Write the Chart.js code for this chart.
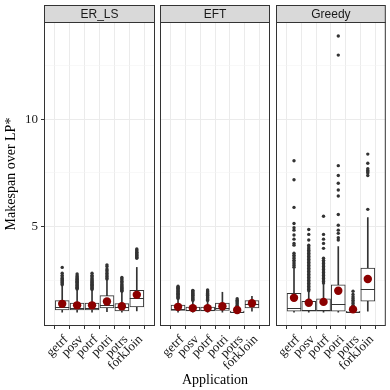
<!DOCTYPE html>
<html>
<head>
<meta charset="utf-8">
<script src="https://cdn.jsdelivr.net/npm/chart.js@4/dist/chart.umd.min.js"></script>
<style>
  body { margin: 0; background: #fff; }
  #wrap { position: relative; width: 390px; height: 390px; }
  #wrap canvas { position: absolute; left: 0; top: 0; }
</style>
</head>
<body>
<div id="wrap">
  <canvas id="c0" width="390" height="390"></canvas>
  <canvas id="c1" width="390" height="390"></canvas>
  <canvas id="c2" width="390" height="390"></canvas>
</div>
<script>
// Datos (un panel por planificador)
const schedulers = ['ER_LS', 'EFT', 'Greedy'];
const apps = ['getrf', 'posv', 'potrf', 'potri', 'potrs', 'forkJoin'];

const whiskerLow = [
  [1.0, 1.0, 1.0, 1.02, 1.0, 1.06],
  [1.0, 1.0, 1.0, 1.0, 0.98, 1.05],
  [1.0, 1.0, 1.0, 1.0, 0.98, 1.05]
];
const q1 = [
  [1.10, 1.10, 1.10, 1.20, 1.06, 1.25],
  [1.08, 1.06, 1.06, 1.08, 1.0, 1.20],
  [1.05, 1.05, 1.05, 1.05, 1.0, 1.51]
];
const medians = [
  [1.22, 1.20, 1.20, 1.34, 1.26, 1.65],
  [1.15, 1.10, 1.10, 1.20, 1.02, 1.40],
  [1.19, 1.10, 1.10, 1.39, 1.02, 2.10]
];
const q3 = [
  [1.54, 1.42, 1.42, 1.77, 1.40, 2.02],
  [1.33, 1.24, 1.24, 1.42, 1.05, 1.54],
  [1.88, 1.51, 1.62, 2.28, 1.04, 3.06]
];
const whiskerHigh = [
  [2.22, 2.04, 2.02, 2.51, 1.95, 3.09],
  [1.60, 1.51, 1.51, 1.93, 1.12, 1.74],
  [3.02, 1.94, 2.31, 4.06, 1.10, 5.42]
];
const means = [
  [1.39, 1.32, 1.32, 1.50, 1.28, 1.81],
  [1.25, 1.19, 1.19, 1.28, 1.10, 1.42],
  [1.67, 1.44, 1.48, 2.00, 1.13, 2.55]
];
const outliers = [
  [
    [2.28, 2.33, 2.38, 2.43, 2.48, 2.53, 2.58, 2.64, 2.72, 2.82, 3.09],
    [2.08, 2.12, 2.16, 2.2, 2.24, 2.28, 2.32, 2.36, 2.4, 2.44, 2.48, 2.52, 2.56, 2.6, 2.65, 2.7, 2.78],
    [2.06, 2.1, 2.14, 2.18, 2.22, 2.26, 2.3, 2.34, 2.38, 2.42, 2.46, 2.5, 2.55, 2.6, 2.66, 2.72, 2.82],
    [2.55, 2.6, 2.67, 2.74, 2.8, 2.87, 2.95, 3.02, 3.13, 3.21],
    [1.98, 2.02, 2.06, 2.1, 2.14, 2.18, 2.22, 2.27, 2.32, 2.38, 2.44, 2.5, 2.56, 2.62],
    [3.52, 3.56, 3.6, 3.64, 3.68, 3.72, 3.76, 3.8, 3.85, 3.9, 3.95]
  ],
  [
    [1.64, 1.68, 1.72, 1.76, 1.8, 1.84, 1.88, 1.92, 1.96, 2.0, 2.04, 2.08, 2.12, 2.16, 2.21],
    [1.55, 1.59, 1.63, 1.67, 1.71, 1.75, 1.79, 1.83, 1.87, 1.91, 1.95, 1.99, 2.02],
    [1.55, 1.59, 1.63, 1.67, 1.71, 1.75, 1.79, 1.83, 1.87, 1.91, 1.95, 1.99, 2.04],
    [],
    [1.2, 1.26, 1.32, 1.38, 1.44, 1.5, 1.56, 1.63],
    []
  ],
  [
    [3.1, 3.18, 3.26, 3.34, 3.42, 3.5, 3.58, 3.66, 3.75, 4.13, 4.21, 4.41, 4.6, 4.83, 4.94, 5.14, 5.89, 7.18, 8.07],
    [2.0, 2.07, 2.14, 2.21, 2.28, 2.35, 2.42, 2.49, 2.56, 2.63, 2.7, 2.77, 2.84, 2.91, 2.98, 3.05, 3.12, 3.19, 3.26, 3.33, 3.4, 3.47, 3.54, 3.61, 3.68, 3.75, 3.82, 3.89, 3.96, 4.04, 4.13, 4.37, 4.63, 4.86],
    [2.36, 2.43, 2.5, 2.57, 2.64, 2.71, 2.78, 2.85, 2.92, 2.99, 3.06, 3.13, 3.2, 3.27, 3.34, 3.42, 3.52, 3.98, 4.21, 4.41, 4.63, 5.48],
    [4.37, 4.48, 4.68, 4.83, 5.06, 5.56, 6.42, 6.7, 7.02, 7.38, 7.84, 13.0, 13.89],
    [1.16, 1.24, 1.32, 1.4, 1.48, 1.56, 1.64, 1.72, 1.83, 1.98],
    [5.8, 7.38, 7.5, 7.55, 7.61, 7.7, 7.95, 8.38]
  ]
];

const yTickLabels = [5, 10];
const yMinorGrid = [2.5, 7.5, 12.5];
const yRange = [0.355, 14.545];

const serif = "'Liberation Serif', 'Times New Roman', serif";
const sans = "'Liberation Sans', Arial, sans-serif";

// caja de cada panel en pixeles
const panelLeft = [44, 160, 276];
const panelRight = [155, 270, 386];

// mediana sobre la caja
const medianPlugin = {
    id: 'boxMedian',
    afterDatasetDraw(chart, args, opts) {
        if (args.index !== 2) return;
        const ctx = chart.ctx;
        const y = chart.scales.y;
        ctx.save();
        ctx.strokeStyle = '#333';
        ctx.lineWidth = 1;
        args.meta.data.forEach((bar, i) => {
            const py = Math.round(y.getPixelForValue(opts.values[i])) + 0.5;
            ctx.beginPath();
            ctx.moveTo(bar.x - bar.width / 2, py);
            ctx.lineTo(bar.x + bar.width / 2, py);
            ctx.stroke();
        });
        ctx.restore();
    }
};

// borde del panel y cabecera gris
const facetPlugin = {
    id: 'facet',
    afterDraw(chart, args, opts) {
        const ctx = chart.ctx;
        const a = chart.chartArea;
        ctx.save();
        ctx.strokeStyle = '#333';
        ctx.lineWidth = 1;
        ctx.strokeRect(a.left + 0.5, a.top + 0.5, a.right - a.left - 1, a.bottom - a.top - 1);
        ctx.fillStyle = '#D9D9D9';
        ctx.fillRect(a.left + 0.5, 5.5, a.right - a.left - 1, a.top - 5);
        ctx.strokeRect(a.left + 0.5, 5.5, a.right - a.left - 1, a.top - 5);
        ctx.fillStyle = '#1A1A1A';
        ctx.font = '12px ' + sans;
        ctx.textAlign = 'center';
        ctx.textBaseline = 'middle';
        ctx.fillText(opts.label, (a.left + a.right) / 2, (5 + a.top) / 2 + 1);
        ctx.restore();
    }
};

function makePanel(p) {
    const boxData = apps.map((a, i) => ({ x: i, y: [q1[p][i], q3[p][i]] }));
    const whiskerData = apps.map((a, i) => ({ x: i, y: [whiskerLow[p][i], whiskerHigh[p][i]] }));
    const meanData = apps.map((a, i) => ({ x: i, y: means[p][i] }));
    const outlierData = [];
    outliers[p].forEach((list, i) => list.forEach(v => outlierData.push({ x: i, y: v })));

    new Chart(document.getElementById('c' + p), {
        type: 'bar',
        data: {
            datasets: [
                { type: 'line', data: meanData, showLine: false, pointRadius: 4.2,
                  pointBackgroundColor: '#8B0000', pointBorderWidth: 0 },
                { type: 'line', data: outlierData, showLine: false, pointRadius: 1.7,
                  pointBackgroundColor: '#333', pointBorderWidth: 0 },
                { data: boxData, grouped: false, barThickness: 14, backgroundColor: '#fff',
                  borderColor: '#333', borderWidth: 1, borderSkipped: false },
                { data: whiskerData, grouped: false, barThickness: 1, backgroundColor: '#333',
                  borderWidth: 0 }
            ]
        },
        options: {
            responsive: false,
            animation: false,
            devicePixelRatio: 1,
            layout: {
                padding: {
                    left: panelLeft[p] - (p === 0 ? 44 : 0),
                    right: 390 - panelRight[p],
                    top: 22,
                    bottom: 0
                }
            },
            plugins: {
                legend: { display: false },
                tooltip: { enabled: false },
                boxMedian: { values: medians[p] },
                facet: { label: schedulers[p] }
            },
            scales: {
                x: {
                    type: 'linear',
                    min: -0.6,
                    max: 5.6,
                    afterBuildTicks: s => { s.ticks = apps.map((a, i) => ({ value: i })); },
                    afterFit: s => { s.height = 64; s.paddingLeft = 0; s.paddingRight = 0; },
                    ticks: {
                        callback: v => apps[v],
                        minRotation: 45,
                        maxRotation: 45,
                        autoSkip: false,
                        padding: 3,
                        labelOffset: 4,
                        color: '#1A1A1A',
                        font: { family: serif, size: 13 }
                    },
                    grid: { color: '#EBEBEB', lineWidth: 1, tickColor: '#333', tickLength: 3 },
                    border: { display: false },
                    title: {
                        display: p === 1,
                        text: 'Application',
                        color: '#000',
                        font: { family: serif, size: 14 },
                        padding: { top: 0, bottom: 1 }
                    }
                },
                y: {
                    min: yRange[0],
                    max: yRange[1],
                    afterBuildTicks: s => {
                        s.ticks = yMinorGrid.concat(yTickLabels).sort((a, b) => a - b).map(v => ({ value: v }));
                    },
                    afterFit: s => { s.width = p === 0 ? 44 : 0; },
                    ticks: {
                        display: p === 0,
                        callback: v => yTickLabels.includes(v) ? String(v) : '',
                        padding: 3,
                        color: '#1A1A1A',
                        font: { family: serif, size: 13 }
                    },
                    grid: {
                        color: c => yTickLabels.includes(c.tick.value) ? '#EBEBEB' : '#F4F4F4',
                        lineWidth: c => yTickLabels.includes(c.tick.value) ? 1 : 0.6,
                        drawTicks: p === 0,
                        tickLength: 3,
                        tickColor: c => yTickLabels.includes(c.tick.value) ? '#333' : 'rgba(0,0,0,0)'
                    },
                    border: { display: false },
                    title: {
                        display: p === 0,
                        text: 'Makespan over LP*',
                        color: '#000',
                        font: { family: serif, size: 14 },
                        padding: { top: 3, bottom: 2 }
                    }
                }
            }
        },
        plugins: [medianPlugin, facetPlugin]
    });
}

schedulers.forEach((s, p) => makePanel(p));
</script>
</body>
</html>
